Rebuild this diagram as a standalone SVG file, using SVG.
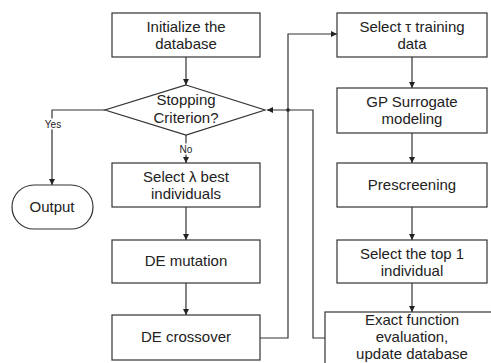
<svg xmlns="http://www.w3.org/2000/svg" width="491" height="363" viewBox="0 0 491 363">
<defs>
<marker id="arr" viewBox="0 0 6 6" refX="6" refY="3" markerWidth="6" markerHeight="6" orient="auto" markerUnits="userSpaceOnUse">
<path d="M0,0 L6,3 L0,6 z" fill="#222"/>
</marker>
<style>
.box{fill:#fff;stroke:#333;stroke-width:1.2}
.t{font-family:"Liberation Sans",Arial,sans-serif;font-size:15px;fill:#222;text-anchor:middle}
.s{font-family:"Liberation Sans",Arial,sans-serif;font-size:10px;fill:#222;text-anchor:middle;stroke:#fff;stroke-width:3px;paint-order:stroke}
.c{fill:none;stroke:#333;stroke-width:1.2}
</style>
</defs>
<rect width="491" height="363" fill="#fff"/>
<g id="connectors">
<path class="c" d="M186,57 V85" marker-end="url(#arr)"/>
<path class="c" d="M105,110 H52 V185" marker-end="url(#arr)"/>
<path class="c" d="M186,135 V163" marker-end="url(#arr)"/>
<path class="c" d="M186,207 V240" marker-end="url(#arr)"/>
<path class="c" d="M186,283 V315" marker-end="url(#arr)"/>
<path class="c" d="M260,338 H288 V34 H337" marker-end="url(#arr)"/>
<path class="c" d="M325,338 H313 V110 H267" marker-end="url(#arr)"/>
<path class="c" d="M412,57 V88" marker-end="url(#arr)"/>
<path class="c" d="M412,133 V163" marker-end="url(#arr)"/>
<path class="c" d="M412,207 V240" marker-end="url(#arr)"/>
<path class="c" d="M412,283 V312" marker-end="url(#arr)"/>
<circle cx="288" cy="110" r="1.8" fill="#222"/>
<text class="s" x="53" y="128">Yes</text>
<text class="s" x="186" y="153">No</text>
</g>
<g id="init">
<rect class="box" x="112" y="13" width="148" height="44"/>
<text class="t" x="186" y="32">Initialize the</text>
<text class="t" x="186" y="49">database</text>
</g>
<g id="stop">
<polygon class="box" points="186,85 265,110 186,135 105,110"/>
<text class="t" x="186" y="105">Stopping</text>
<text class="t" x="186" y="123">Criterion?</text>
</g>
<g id="output">
<rect class="box" x="12" y="185" width="81" height="44" rx="22" ry="22"/>
<text class="t" x="52" y="212">Output</text>
</g>
<g id="selectlambda">
<rect class="box" x="112" y="163" width="148" height="44"/>
<text class="t" x="186" y="182">Select λ best</text>
<text class="t" x="186" y="199">individuals</text>
</g>
<g id="mutation">
<rect class="box" x="112" y="240" width="148" height="43"/>
<text class="t" x="186" y="266">DE mutation</text>
</g>
<g id="crossover">
<rect class="box" x="112" y="315" width="148" height="45"/>
<text class="t" x="186" y="342">DE crossover</text>
</g>
<g id="selecttau">
<rect class="box" x="337" y="13" width="150" height="44"/>
<text class="t" x="412" y="32">Select τ training</text>
<text class="t" x="412" y="49">data</text>
</g>
<g id="gp">
<rect class="box" x="337" y="88" width="150" height="45"/>
<text class="t" x="412" y="107">GP Surrogate</text>
<text class="t" x="412" y="124">modeling</text>
</g>
<g id="prescreen">
<rect class="box" x="337" y="163" width="150" height="44"/>
<text class="t" x="412" y="190">Prescreening</text>
</g>
<g id="top1">
<rect class="box" x="337" y="240" width="150" height="43"/>
<text class="t" x="412" y="259">Select the top 1</text>
<text class="t" x="412" y="276">individual</text>
</g>
<g id="exact">
<rect class="box" x="325" y="312" width="175" height="60"/>
<text class="t" x="412" y="325">Exact function</text>
<text class="t" x="412" y="342">evaluation,</text>
<text class="t" x="412" y="359">update database</text>
</g>
</svg>
